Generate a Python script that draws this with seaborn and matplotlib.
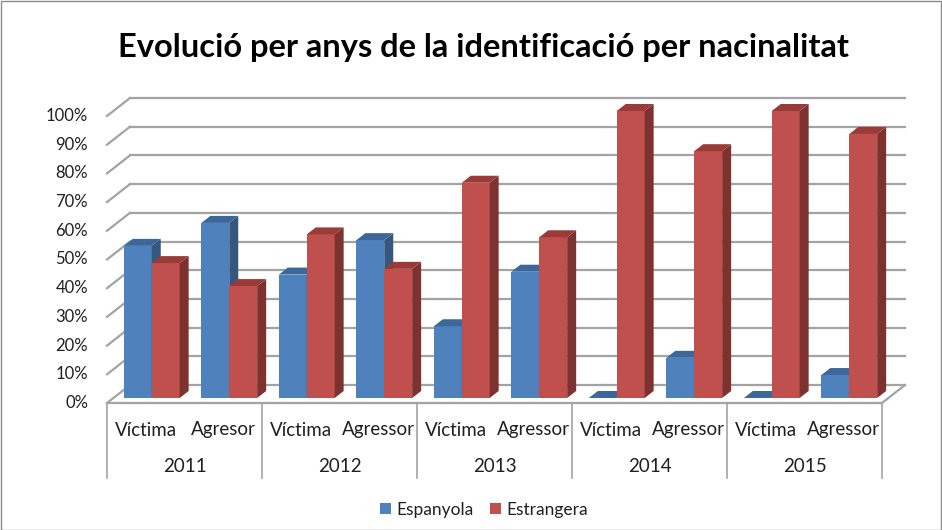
import numpy as np
import pandas as pd
import matplotlib
matplotlib.use("Agg")
import matplotlib.pyplot as plt
import seaborn as sns
from matplotlib.patches import Polygon, Patch, Rectangle
from matplotlib.transforms import ScaledTranslation, IdentityTransform

plt.rcParams['font.family'] = ['Lato', 'DejaVu Sans']

# ---------------- data ----------------
years = ['2011', '2012', '2013', '2014', '2015']
roles = ['Víctima', 'Agresor', 'Víctima', 'Agressor', 'Víctima', 'Agressor',
         'Víctima', 'Agressor', 'Víctima', 'Agressor']
espanyola = [0.53, 0.61, 0.43, 0.55, 0.25, 0.44, 0.00, 0.14, 0.00, 0.08]
estrangera = [0.47, 0.39, 0.57, 0.45, 0.75, 0.56, 1.00, 0.86, 1.00, 0.92]
series = ['Espanyola', 'Estrangera']
yticks = [0.0, 0.1, 0.2, 0.3, 0.4, 0.5, 0.6, 0.7, 0.8, 0.9, 1.0]
ytick_labels = ['0%', '10%', '20%', '30%', '40%', '50%', '60%', '70%', '80%', '90%', '100%']

front_col = ['#4F81BD', '#C0504D']
side_col = ['#35577F', '#7D3230']
top_col = ['#3D6798', '#9A3B39']

keys = [f"{years[i // 2]} {roles[i]}" for i in range(len(roles))]
df = pd.DataFrame({
    'key': keys * 2,
    'serie': [series[0]] * len(keys) + [series[1]] * len(keys),
    'value': espanyola + estrangera,
})

# ---------------- figure ----------------
W, H = 942, 530
DPI = 100
fig = plt.figure(figsize=(W / DPI, H / DPI), dpi=DPI)
fig.patch.set_facecolor('white')

front_left, front_right = 107, 882
front_bottom, px_per_unit = 403, 287
wall_dx, wall_dy = 23, 18
top_px = 98
unit_px = (front_right - front_left) / len(keys)

ax = fig.add_axes([front_left / W, (H - front_bottom) / H,
                   (front_right + wall_dx - front_left) / W,
                   (front_bottom - top_px) / H])

sns.barplot(data=df, x='key', y='value', hue='serie', order=keys,
            hue_order=series, palette=front_col, saturation=1,
            width=0.72, dodge=True, ax=ax, legend=False, errorbar=None)
ax.set_xlim(-0.5, len(keys) - 0.5 + wall_dx / unit_px)
ax.set_ylim(0, (front_bottom - top_px) / px_per_unit)
ax.axis('off')

grid_col = '#A3A3A3'
td = ax.transData


def to_px(x, y):
    return td.transform((x, y))


# gridlines (back wall + left diagonal)
for v in yticks:
    fx, fy = to_px(-0.5, v)
    ax.add_line(plt.Line2D([fx, fx + wall_dx], [fy, fy + wall_dy],
                           transform=IdentityTransform(), color=grid_col,
                           lw=1.6, zorder=1, clip_on=False))
    bx1, _ = to_px(len(keys) - 0.5, v)
    ax.add_line(plt.Line2D([fx + wall_dx, bx1 + wall_dx], [fy + wall_dy, fy + wall_dy],
                           transform=IdentityTransform(), color=grid_col,
                           lw=1.6, zorder=1, clip_on=False))
# floor front edge and right diagonal
x0p, y0p = to_px(-0.5, 0)
x1p, _ = to_px(len(keys) - 0.5, 0)
ax.add_line(plt.Line2D([x0p, x1p], [y0p, y0p], transform=IdentityTransform(),
                       color=grid_col, lw=1.6, zorder=1, clip_on=False))
ax.add_line(plt.Line2D([x1p, x1p + wall_dx], [y0p, y0p + wall_dy],
                       transform=IdentityTransform(), color=grid_col,
                       lw=1.6, zorder=1, clip_on=False))

# 3D bars
bar_dx, bar_dy = 6, 5
depth_dx, depth_dy = 9, 7
bar_off = ScaledTranslation(bar_dx / DPI, bar_dy / DPI, fig.dpi_scale_trans)
n = len(keys)
for k, p in enumerate(ax.patches[:2 * n]):
    hue_i = k // n
    pos_i = k % n
    z = 3 + 4 * pos_i + 2 * hue_i
    x0, w, h = p.get_x(), p.get_width(), p.get_height()
    p.set_transform(td + bar_off)
    p.set_zorder(z)
    p.set_clip_on(False)
    p.set_edgecolor('none')
    (ax_, ay_) = to_px(x0, 0)
    (bx_, by_) = to_px(x0 + w, h)
    ax_ += bar_dx; bx_ += bar_dx
    ay_ += bar_dy; by_ += bar_dy
    side = [(bx_, ay_), (bx_, by_), (bx_ + depth_dx, by_ + depth_dy),
            (bx_ + depth_dx, ay_ + depth_dy)]
    top = [(ax_, by_), (bx_, by_), (bx_ + depth_dx, by_ + depth_dy),
           (ax_ + depth_dx, by_ + depth_dy)]
    ax.add_patch(Polygon(side, closed=True, transform=IdentityTransform(),
                         facecolor=side_col[hue_i], edgecolor='none',
                         zorder=z + 0.5, clip_on=False))
    ax.add_patch(Polygon(top, closed=True, transform=IdentityTransform(),
                         facecolor=top_col[hue_i], edgecolor='none',
                         zorder=z + 0.6, clip_on=False))

text_col = '#202020'
# y tick labels
ytr = ax.get_yaxis_transform()
lab_x = (88 - front_left) / (front_right + wall_dx - front_left)
for v, lab in zip(yticks, ytick_labels):
    ax.text(lab_x, v, lab, transform=ytr, ha='right', va='center',
            fontsize=12, color=text_col, clip_on=False)

# category table
xtr = ax.get_xaxis_transform()
ax_h = front_bottom - top_px
for b in np.arange(-0.5, n, 2):
    ax.plot([b, b], [0, -(478 - front_bottom) / ax_h], transform=xtr,
            color=grid_col, lw=1.2, clip_on=False, zorder=1)
for i, r in enumerate(roles):
    ax.text(i, -(430 - front_bottom) / ax_h, r, transform=xtr, ha='center',
            va='center', fontsize=13.5, color=text_col, clip_on=False)
for j, yv in enumerate(years):
    ax.text(2 * j + 0.5, -(466 - front_bottom) / ax_h, yv, transform=xtr,
            ha='center', va='center', fontsize=13.5, color=text_col, clip_on=False)

# title
fig.text(483 / W, 1 - 48 / H, 'Evolució per anys de la identificació per nacinalitat',
         ha='center', va='center', fontsize=23.5, fontweight='bold', color='black')

# legend
handles = [Patch(facecolor=c, edgecolor='none') for c in front_col]
fig.legend(handles, series, loc='center', bbox_to_anchor=(484 / W, 1 - 510 / H),
           ncol=2, frameon=False, handlelength=0.6, handleheight=0.6,
           handletextpad=0.3, columnspacing=1.0, fontsize=12.5,
           labelcolor=text_col)

# chart border
fig.add_artist(Rectangle((0.5 / W, 0.5 / H), 1 - 1.5 / W, 1 - 1.5 / H,
                         transform=fig.transFigure, fill=False,
                         edgecolor='#8C8C8C', lw=1))

fig.savefig('out.png', dpi=DPI, facecolor='white')
